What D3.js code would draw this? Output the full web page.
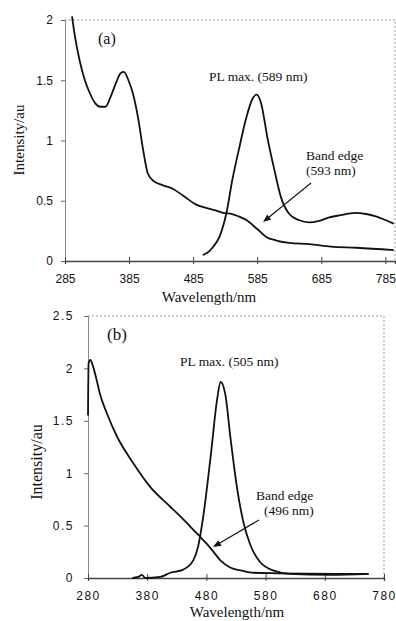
<!DOCTYPE html>
<html>
<head>
<meta charset="utf-8">
<script src="https://cdn.jsdelivr.net/npm/d3@7"></script>
<style>
  body { margin: 0; background: #fff; }
  svg { display: block; }
  .tick text { font-family: "Liberation Sans", Arial, sans-serif; font-size: 12px; fill: #111; }
  .lbl { font-family: "Liberation Serif", "Times New Roman", serif; fill: #111; }
</style>
</head>
<body>
<svg id="chart" width="396" height="621"></svg>
<script>
// panel (a) absorbance [wavelength nm, intensity]
var absA = [[296,2.03],[300,1.88],[308,1.66],[316,1.50],[324,1.39],[332,1.31],[340,1.28],[348,1.28],
  [356,1.36],[364,1.47],[372,1.56],[377,1.57],[384,1.50],[391,1.39],[399,1.19],[407,0.92],[414,0.73],
  [422,0.67],[437,0.63],[453,0.60],[470,0.54],[489,0.47],[505,0.44],[520,0.42],[531,0.40],[546,0.39],
  [556,0.37],[568,0.34],[584,0.27],[599,0.20],[615,0.17],[635,0.15],[666,0.14],[700,0.12],[740,0.11],[798,0.09]];
// panel (a) photoluminescence
var plA = [[500,0.05],[510,0.08],[515,0.11],[526,0.20],[537,0.40],[546,0.67],[557,0.94],[568,1.19],
  [578,1.35],[584,1.38],[591,1.31],[601,1.02],[612,0.75],[622,0.53],[635,0.39],[650,0.34],[666,0.32],
  [680,0.33],[696,0.36],[715,0.38],[738,0.40],[755,0.39],[770,0.37],[785,0.34],[798,0.31]];
// panel (b) absorbance
var absB = [[280,1.55],[281,2.05],[284,2.08],[289,2.01],[295,1.88],[300,1.76],[312,1.57],[329,1.35],
  [356,1.10],[385,0.87],[419,0.68],[441,0.56],[458,0.46],[470,0.39],[480,0.33],[492,0.25],[505,0.16],
  [520,0.10],[540,0.07],[560,0.05],[600,0.045],[700,0.04],[754,0.04]];
// panel (b) photoluminescence
var plB = [[355,0.0],[365,0.01],[371,0.03],[377,0.0],[402,0.01],[419,0.05],[441,0.08],[458,0.17],
  [466,0.30],[475,0.60],[487,1.15],[498,1.70],[504,1.87],[512,1.75],[521,1.32],[532,0.85],[543,0.52],
  [554,0.32],[571,0.15],[594,0.07],[620,0.04],[688,0.03],[754,0.04]];

var ticksA = [285, 385, 485, 585, 685, 785];
var ticksB = [280, 380, 480, 580, 680, 780];
var yTicksA = [0, 0.5, 1, 1.5, 2];
var yTicksB = [0, 0.5, 1, 1.5, 2, 2.5];

var svg = d3.select("#chart");

/**
 * Draw one panel: frame, axes, curves and labels
 */
var drawPanel = function(p) {
    var x = d3.scaleLinear().domain(p.xDomain).range([p.left, p.right]);
    var y = d3.scaleLinear().domain(p.yDomain).range([p.bottom, p.top]);
    var g = svg.append("g");

    // dotted plot-area border (top and right)
    g.append("path")
        .attr("d", "M" + p.left + "," + p.top + "H" + p.right + "V" + p.bottom)
        .attr("fill", "none").attr("stroke", "#999")
        .attr("stroke-width", 1).attr("stroke-dasharray", "2,2");

    var yAxis = g.append("g")
        .attr("transform", "translate(" + p.left + ",0)")
        .call(d3.axisLeft(y).tickValues(p.yTicks).tickSize(4).tickPadding(p.yPad)
            .tickFormat(d3.format("")));
    yAxis.select(".domain").attr("stroke", "#888");
    yAxis.selectAll(".tick line").attr("stroke", "#666");

    var xAxis = g.append("g")
        .attr("transform", "translate(0," + p.bottom + ")")
        .call(d3.axisBottom(x).tickValues(p.xTicks).tickSize(3).tickPadding(10)
            .tickFormat(d3.format("d")));
    xAxis.select(".domain").attr("stroke", "#444").attr("stroke-width", 1.3);
    xAxis.selectAll(".tick line").attr("y1", -4).attr("stroke", "#444");
    if (p.spacing) {
        xAxis.selectAll(".tick text").style("letter-spacing", p.spacing + "px");
        yAxis.selectAll(".tick text").style("letter-spacing", p.spacing + "px");
    }

    var line = d3.line()
        .x(function(d) { return x(d[0]); })
        .y(function(d) { return y(d[1]); })
        .curve(d3.curveMonotoneX);
    [p.abs, p.pl].forEach(function(s) {
        g.append("path").datum(s)
            .attr("d", line)
            .attr("fill", "none").attr("stroke", "#111")
            .attr("stroke-width", 1.8).attr("stroke-linejoin", "round");
    });

    // titles
    g.append("text").attr("class", "lbl")
        .attr("x", p.xTitle[0]).attr("y", p.xTitle[1])
        .attr("text-anchor", "middle").style("font-size", "15px")
        .text("Wavelength/nm");
    g.append("text").attr("class", "lbl")
        .attr("transform", "translate(" + p.yTitle[0] + "," + p.yTitle[1] + ") rotate(-90)")
        .attr("text-anchor", "middle").style("font-size", p.yTitleSize + "px")
        .text("Intensity/au");
    g.append("text").attr("class", "lbl")
        .attr("x", p.tag[0]).attr("y", p.tag[1]).style("font-size", p.tagSize + "px")
        .text(p.tagText);

    // annotations
    g.append("text").attr("class", "lbl")
        .attr("x", p.plText[0]).attr("y", p.plText[1]).style("font-size", "13.5px")
        .text(p.plLabel);
    var band = g.append("text").attr("class", "lbl").style("font-size", "13.5px");
    band.append("tspan").attr("x", p.bandText[0]).attr("y", p.bandText[1]).text("Band edge");
    band.append("tspan").attr("x", p.bandText[2]).attr("y", p.bandText[1] + 15).text(p.bandLabel);

    // arrow
    var a = p.arrow;
    var ang = Math.atan2(a[3] - a[1], a[2] - a[0]);
    var hl = 8, hw = 3.2;
    g.append("line")
        .attr("x1", a[0]).attr("y1", a[1])
        .attr("x2", a[2] - Math.cos(ang) * 4).attr("y2", a[3] - Math.sin(ang) * 4)
        .attr("stroke", "#111").attr("stroke-width", 1.1);
    var bx = a[2] - Math.cos(ang) * hl, by = a[3] - Math.sin(ang) * hl;
    g.append("path")
        .attr("d", "M" + a[2] + "," + a[3] +
            "L" + (bx - Math.sin(ang) * hw) + "," + (by + Math.cos(ang) * hw) +
            "L" + (bx + Math.sin(ang) * hw) + "," + (by - Math.cos(ang) * hw) + "Z")
        .attr("fill", "#111");
};

drawPanel({
    left: 65, right: 395, top: 20, bottom: 261,
    xDomain: [285, 800], yDomain: [0, 2],
    xTicks: ticksA, yTicks: yTicksA, yPad: 8,
    abs: absA, pl: plA,
    xTitle: [209, 302], yTitle: [24, 140], yTitleSize: 15,
    tag: [98, 44], tagSize: 16, tagText: "(a)",
    plText: [209, 81], plLabel: "PL max. (589 nm)",
    bandText: [306, 160, 306], bandLabel: "(593 nm)",
    arrow: [311, 183, 263, 222]
});

drawPanel({
    left: 88, right: 384, top: 316, bottom: 578,
    xDomain: [280, 780], yDomain: [0, 2.5],
    xTicks: ticksB, yTicks: yTicksB, yPad: 10, spacing: 1.5,
    abs: absB, pl: plB,
    xTitle: [237, 617], yTitle: [42, 462], yTitleSize: 16,
    tag: [107, 340], tagSize: 17, tagText: "(b)",
    plText: [180, 366], plLabel: "PL max. (505 nm)",
    bandText: [256, 500, 264], bandLabel: "(496 nm)",
    arrow: [259, 520, 213, 547]
});
</script>
</body>
</html>
